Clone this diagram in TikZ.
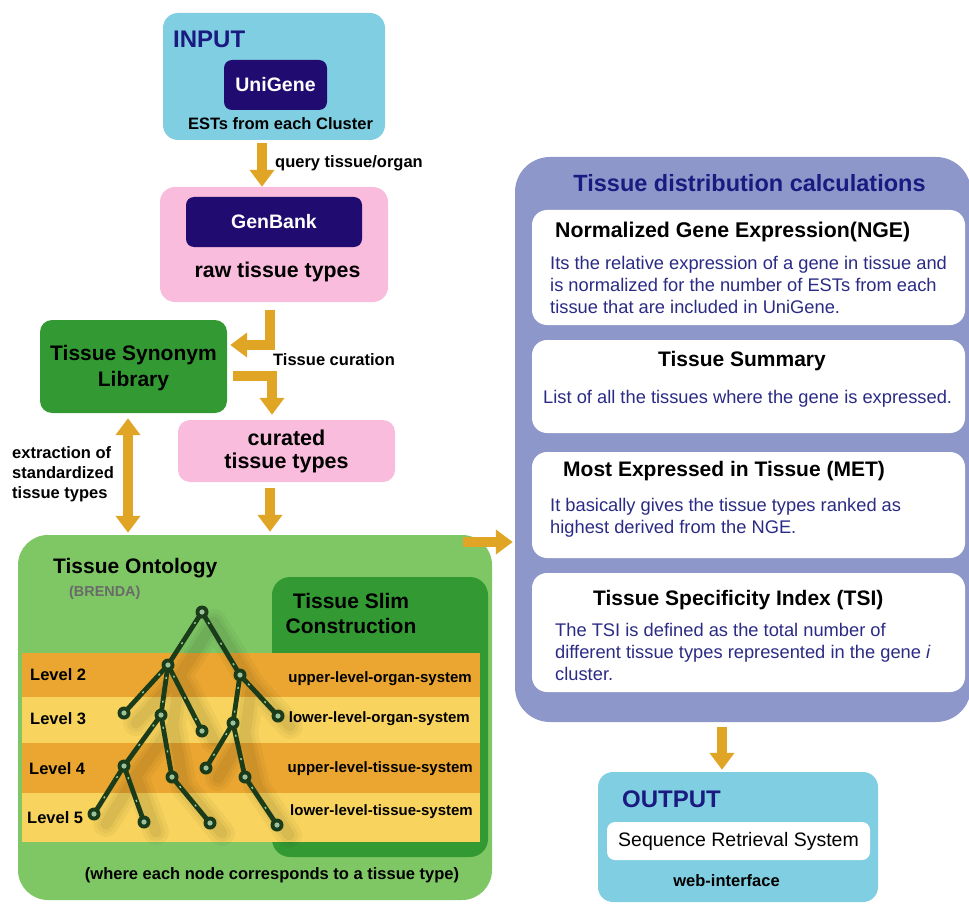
\documentclass[tikz,border=0pt]{standalone}
\usepackage{fontspec}
\setmainfont{Liberation Sans}
\usetikzlibrary{arrows.meta,calc}
\newcommand\fsz[2]{\fontsize{#1}{#2}\selectfont}
\definecolor{arrowc}{HTML}{E1A526}
\definecolor{lblue}{HTML}{80CEE1}
\definecolor{pinkc}{HTML}{F9BCDC}
\definecolor{navybox}{HTML}{200C70}
\definecolor{navyt}{HTML}{1A1A80}
\definecolor{dgreen}{HTML}{339A33}
\definecolor{lgreen}{HTML}{7FC765}
\definecolor{purplec}{HTML}{8D97C9}
\definecolor{bandA}{HTML}{EAA630}
\definecolor{bandB}{HTML}{F8D45E}
\definecolor{treec}{HTML}{1A3C1A}
\definecolor{treelight}{HTML}{9CC29C}
\definecolor{bodyc}{HTML}{2B2B85}
\definecolor{grayt}{HTML}{6A6A6A}
\begin{document}
\begin{tikzpicture}[x=1pt,y=-1pt,
  bg/.style={inner sep=0pt, draw=none},
  darkbox/.style={bg, fill=navybox, rounded corners=8pt, text=white, font=\bfseries\fsz{19.5}{23}},
  fat/.style={draw=arrowc, line width=10pt, -{Triangle[width=24pt,length=17pt]}, line join=miter},
  fatboth/.style={draw=arrowc, line width=10pt, {Triangle[width=24pt,length=17pt]}-{Triangle[width=24pt,length=17pt]}},
  lbl/.style={inner sep=0pt, font=\bfseries\fsz{16.5}{20}},
  head/.style={inner sep=0pt, font=\bfseries\fsz{21}{25}},
  body/.style={inner sep=0pt, font=\fsz{18.3}{22}, text=bodyc, align=left, anchor=north west},
  treeedge/.style={draw=treec, line width=4.8pt, line cap=round},
  treehi/.style={draw=white!75!green, opacity=0.75, line width=1.4pt, dash pattern=on 2pt off 22pt, dash phase=-12pt},
  tnode/.style={circle, fill=treec, minimum size=13pt, inner sep=0pt,
     path picture={\fill[treelight] (path picture bounding box.center) circle (2.6pt);}}
]
\useasboundingbox (0,0) rectangle (969,904);

% ---------- left column boxes ----------
\node[bg, fill=lblue, rounded corners=15pt, minimum width=222pt, minimum height=127pt] (input) at (274,76.5) {};
\node[anchor=base west, inner sep=0pt, font=\bfseries\fsz{24}{28}, text=navyt] (inputT) at (173,48) {INPUT};
\node[darkbox, minimum width=103pt, minimum height=50pt] (unigene) at (275.5,85) {UniGene};
\node[lbl, anchor=base] (ests) at (280.5,130) {ESTs from each Cluster};

\node[bg, fill=pinkc, rounded corners=15pt, minimum width=228pt, minimum height=115pt] (genbank) at (274,244.5) {};
\node[darkbox, minimum width=176pt, minimum height=50pt] (genbankT) at (274,222) {GenBank};
\node[inner sep=0pt, anchor=base, font=\bfseries\fsz{21.3}{25}] (raw) at (277.5,277) {raw tissue types};

\node[bg, fill=dgreen, rounded corners=12pt, minimum width=187pt, minimum height=93pt] (synonym) at (133.5,366.5) {};
\node[head, align=center, font=\bfseries\fsz{21}{26.5}] (synT) at (133.5,368) {Tissue Synonym\\Library};

\node[bg, fill=pinkc, rounded corners=12pt, minimum width=217pt, minimum height=62pt] (curated) at (286.5,451) {};
\node[head, align=center, font=\bfseries\fsz{21.5}{22.5}] (curT) at (286.5,451.4) {curated\\tissue types};

% ---------- labels ----------
\node[lbl, anchor=base west] (query) at (275,168) {query tissue/organ};
\node[lbl, anchor=base west] (curation) at (273,365) {Tissue curation};
\node[lbl, anchor=west, align=left, font=\bfseries\fsz{16.5}{20}] (extract) at (12,474) {extraction of\\standardized\\tissue types};

% ---------- ontology ----------
\node[bg, fill=lgreen, rounded corners=30pt, minimum width=474pt, minimum height=365pt] (ontology) at (255,717.5) {};
\node[head, anchor=base west] (ontoT) at (53,573) {Tissue Ontology};
\node[inner sep=0pt, anchor=base west, font=\bfseries\fsz{14.4}{17}, text=grayt] (brenda) at (69,596) {(BRENDA)};
\node[bg, fill=dgreen, rounded corners=18pt, minimum width=216pt, minimum height=280pt] (slim) at (380,717) {};
\node[head, align=center, font=\bfseries\fsz{21}{25}] (slimT) at (351,613) {Tissue Slim\\Construction};

\fill[bandA] (22,653) rectangle (480,697);
\fill[bandB] (22,697) rectangle (480,743);
\fill[bandA] (22,743) rectangle (480,793);
\fill[bandB] (22,793) rectangle (480,842);

\node[lbl, anchor=base west] (lv2) at (30,680) {Level 2};
\node[lbl, anchor=base west] (lv3) at (30,724) {Level 3};
\node[lbl, anchor=base west] (lv4) at (29,774) {Level 4};
\node[lbl, anchor=base west] (lv5) at (27,823) {Level 5};
\node[inner sep=0pt, anchor=base east, font=\bfseries\fsz{15}{18}] (r2) at (472,682) {upper-level-organ-system};
\node[inner sep=0pt, anchor=base east, font=\bfseries\fsz{15}{18}] (r3) at (470,722) {lower-level-organ-system};
\node[inner sep=0pt, anchor=base east, font=\bfseries\fsz{15}{18}] (r4) at (473,772) {upper-level-tissue-system};
\node[inner sep=0pt, anchor=base east, font=\bfseries\fsz{15}{18}] (r5) at (473,815) {lower-level-tissue-system};
\node[lbl, anchor=base] (where) at (272,879) {(where each node corresponds to a tissue type)};

% ---------- tree ----------
\coordinate (t0) at (202,612);
\coordinate (tA) at (168,665);
\coordinate (tB) at (240,675);
\coordinate (tA1) at (124,713);
\coordinate (tA2) at (161,715);
\coordinate (tA3) at (202,731);
\coordinate (tB1) at (233,723);
\coordinate (tB2) at (278,716);
\coordinate (tA2a) at (124,766);
\coordinate (tA2b) at (172,777);
\coordinate (tB1a) at (206,768);
\coordinate (tB1b) at (245,777);
\coordinate (tL1) at (94,814);
\coordinate (tL2) at (144,822);
\coordinate (tL3) at (210,823);
\coordinate (tL4) at (277,825);
\foreach \w/\o in {26/0.035,18/0.04,11/0.05}{
\begin{scope}[transparency group, opacity=\o]
\foreach \a/\b in {t0/tA,t0/tB,tA/tA1,tA/tA2,tA/tA3,tB/tB1,tB/tB2,tA2/tA2a,tA2/tA2b,tB1/tB1a,tB1/tB1b,tA2a/tL1,tA2a/tL2,tA2b/tL3,tB1b/tL4}
  {\draw[black, line width=\w pt, line cap=round] ([xshift=12pt,yshift=-10pt]\a) -- ([xshift=12pt,yshift=-10pt]\b);}
\end{scope}}
\foreach \a/\b in {t0/tA,t0/tB,tA/tA1,tA/tA2,tA/tA3,tB/tB1,tB/tB2,tA2/tA2a,tA2/tA2b,tB1/tB1a,tB1/tB1b,tA2a/tL1,tA2a/tL2,tA2b/tL3,tB1b/tL4}
  {\draw[treeedge] (\a) -- (\b); \draw[treehi] (\a) -- (\b);}
\foreach \p in {t0,tA,tB,tA1,tA2,tA3,tB1,tB2,tA2a,tA2b,tB1a,tB1b,tL1,tL2,tL3,tL4}
  {\node[tnode] (n\p) at (\p) {};}

% ---------- calculations ----------
\node[bg, fill=purplec, rounded corners=35pt, minimum width=456pt, minimum height=565pt] (calc) at (743,439.5) {};
\node[inner sep=0pt, anchor=base, font=\bfseries\fsz{23.5}{28}, text=navyt] (calcT) at (749.5,192) {Tissue distribution calculations};

\node[bg, fill=white, rounded corners=15pt, minimum width=433pt, minimum height=115pt] (nge) at (748.5,267.5) {};
\node[head, anchor=base west, font=\bfseries\fsz{21.3}{25}] (ngeT) at (555,237) {Normalized Gene Expression(NGE)};
\node[body] (ngeB) at (550,256) {Its the relative expression of a gene in tissue and\\is normalized for the number of ESTs from each\\tissue that are included in UniGene.};

\node[bg, fill=white, rounded corners=15pt, minimum width=433pt, minimum height=93pt] (summ) at (748.5,386.5) {};
\node[head, anchor=base] (summT) at (742,366) {Tissue Summary};
\node[inner sep=0pt, anchor=base west, font=\fsz{18.3}{22}, text=bodyc] (summB) at (543,403) {List of all the tissues where the gene is expressed.};

\node[bg, fill=white, rounded corners=15pt, minimum width=433pt, minimum height=106pt] (met) at (748.5,505) {};
\node[head, anchor=base west] (metT) at (563,476) {Most Expressed in Tissue (MET)};
\node[body] (metB) at (550,498) {It basically gives the tissue types ranked as\\highest derived from the NGE.};

\node[bg, fill=white, rounded corners=15pt, minimum width=433pt, minimum height=119pt] (tsi) at (748.5,632.5) {};
\node[head, anchor=base west] (tsiT) at (593,605) {Tissue Specificity Index (TSI)};
\node[body] (tsiB) at (555,623) {The TSI is defined as the total number of\\different tissue types represented in the gene \textit{i}\\cluster.};

% ---------- output ----------
\node[bg, fill=lblue, rounded corners=15pt, minimum width=280pt, minimum height=130pt] (output) at (738,837) {};
\node[anchor=base west, inner sep=0pt, font=\bfseries\fsz{24}{28}, text=navyt] (outT) at (622,807) {OUTPUT};
\node[bg, fill=white, rounded corners=8pt, minimum width=263pt, minimum height=38pt, font=\fsz{19.5}{23}] (srs) at (738.5,841) {Sequence Retrieval System};
\node[lbl, anchor=base] (web) at (726.5,886) {web-interface};

% ---------- arrows ----------
\coordinate (c1) at (262,0);
\coordinate (c2) at (270,0);
\coordinate (c3) at (0,345);
\coordinate (c4) at (0,376);
\coordinate (c5) at (272,0);
\coordinate (c6) at (128,0);
\coordinate (c7) at (270,0);
\coordinate (c9) at (722,0);
\coordinate (ontoOut) at (463,542);

\draw[fat, shorten <=3pt] (input.south -| c1) -- (genbank.north -| c1);
\draw[fat, shorten <=8pt, shorten >=3pt] (genbank.south -| c2) |- (synonym.east |- c3);
\draw[fat, shorten <=6pt, shorten >=5pt] (synonym.east |- c4) -| (curated.north -| c5);
\draw[fatboth, shorten <=5pt, shorten >=2pt] (synonym.south -| c6) -- (ontology.north -| c6);
\draw[fat, shorten <=6pt, shorten >=3pt] (curated.south -| c7) -- (ontology.north -| c7);
\draw[fat, shorten >=2pt] (ontoOut) -- (calc.west |- ontoOut);
\draw[fat, shorten <=5pt, shorten >=2pt] (calc.south -| c9) -- (output.north -| c9);
\end{tikzpicture}
\end{document}
